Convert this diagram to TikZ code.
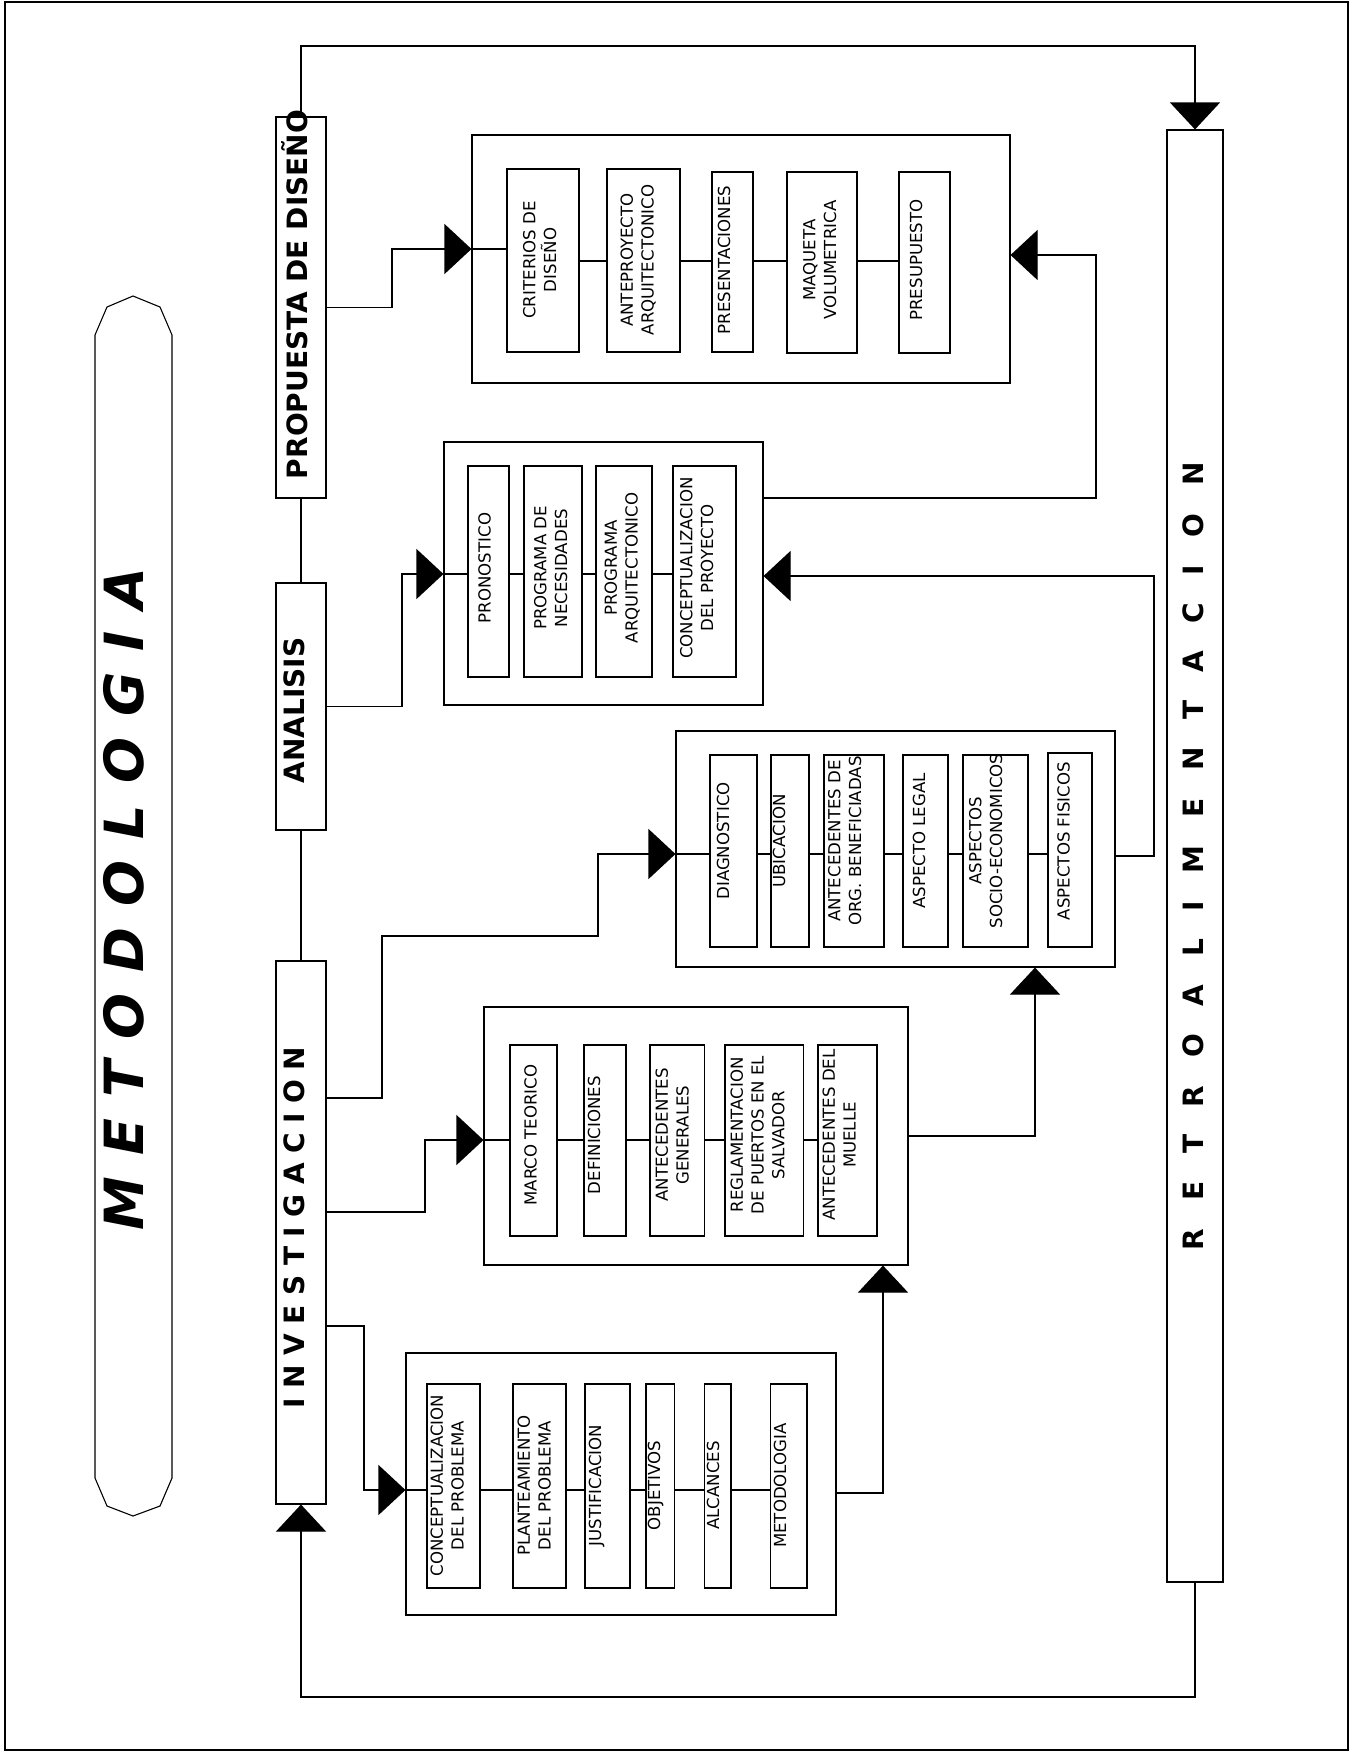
\documentclass[tikz,border=0pt]{standalone}
\usepackage{fontspec}
\setmainfont{DejaVu Sans}
\usetikzlibrary{arrows.meta,fit,calc}
\begin{document}
\begin{tikzpicture}[x=0.5pt,y=-0.5pt,line width=0.55pt,
  frame/.style={draw,inner sep=0pt},
  lab/.style={rotate=90,align=center,inner sep=0pt,text depth=0pt,
              font=\fontsize{8.3}{10.4}\selectfont},
  stage/.style={rotate=90,anchor=base,inner sep=0pt,
                font=\fontsize{14}{17}\selectfont\bfseries},
  arr/.style={-{Triangle[length=13.5pt,width=25pt]}}]
\useasboundingbox (0,0) rectangle (1358,1753);

% page frame
\node[frame,fit={(5,2) (1348,1750)}] (border) {};

% title shield
\draw (95,335) -- (107,307) -- (133,296) -- (160,307) -- (172,335)
  -- (172,1478) -- (160,1506) -- (133,1516) -- (107,1506) -- (95,1478) -- cycle;
\node[stage,font=\fontsize{27}{32}\selectfont\bfseries\itshape] (metodt) at (143,899)
  {\makebox[331pt][s]{M\hfil E\hfil T\hfil O\hfil D\hfil O\hfil L\hfil O\hfil G\hfil I\hfil A}};

% stage bars
\node[frame,fit={(276,117) (326,498)}] (prop) {};
\node[frame,fit={(276,583) (326,830)}] (anal) {};
\node[frame,fit={(276,961) (326,1504)}] (inv) {};
\node[frame,fit={(1167,130) (1223,1582)}] (retro) {};
\node[stage] (propt) at (307,294.5) {PROPUESTA DE DISEÑO};
\node[stage] (analt) at (304,710.5) {ANALISIS};
\node[stage] (invt) at (304,1227.5)
  {\makebox[180.5pt][s]{I\hfil N\hfil V\hfil E\hfil S\hfil T\hfil I\hfil G\hfil A\hfil C\hfil I\hfil O\hfil N}};
\node[stage] (retrot) at (1203,856)
  {\makebox[394pt][s]{R\hfil E\hfil T\hfil R\hfil O\hfil A\hfil L\hfil I\hfil M\hfil E\hfil N\hfil T\hfil A\hfil C\hfil I\hfil O\hfil N}};

% group frames
\node[frame,fit={(472,135) (1010,383)}] (g1) {};
\node[frame,fit={(444,442) (763,705)}] (g2) {};
\node[frame,fit={(676,731) (1115,967)}] (g3) {};
\node[frame,fit={(484,1007) (908,1265)}] (g4) {};
\node[frame,fit={(406,1353) (836,1615)}] (g5) {};

% design proposal items
\node[frame,fit={(507,169) (579,352)}] (c1) {};
\node[frame,fit={(607,169) (680,352)}] (c2) {};
\node[frame,fit={(712,172) (753,352)}] (c3) {};
\node[frame,fit={(787,172) (857,353)}] (c4) {};
\node[frame,fit={(899,172) (950,353)}] (c5) {};
\node[lab] (c1t) at (539.5,260) {CRITERIOS DE\\DISEÑO};
\node[lab] (c2t) at (637,260) {ANTEPROYECTO\\ARQUITECTONICO};
\node[lab] (c3t) at (724,260) {PRESENTACIONES};
\node[lab] (c4t) at (819.5,260) {MAQUETA\\VOLUMETRICA};
\node[lab] (c5t) at (916,260) {PRESUPUESTO};

% analysis items
\node[frame,fit={(468,466) (509,677)}] (a1) {};
\node[frame,fit={(524,466) (582,677)}] (a2) {};
\node[frame,fit={(596,466) (652,677)}] (a3) {};
\node[frame,fit={(673,466) (736,677)}] (a4) {};
\node[lab] (a1t) at (484.5,568) {PRONOSTICO};
\node[lab] (a2t) at (550.5,568) {PROGRAMA DE\\NECESIDADES};
\node[lab] (a3t) at (621,568) {PROGRAMA\\ARQUITECTONICO};
\node[lab] (a4t) at (696.5,568) {CONCEPTUALIZACION\\DEL PROYECTO};

% diagnosis items
\node[frame,fit={(710,755) (757,947)}] (d1) {};
\node[frame,fit={(771,755) (809,947)}] (d2) {};
\node[frame,fit={(824,755) (884,947)}] (d3) {};
\node[frame,fit={(903,755) (948,947)}] (d4) {};
\node[frame,fit={(963,755) (1028,947)}] (d5) {};
\node[frame,fit={(1048,753) (1092,947)}] (d6) {};
\node[lab] (d1t) at (723,841) {DIAGNOSTICO};
\node[lab] (d2t) at (779,841) {UBICACION};
\node[lab] (d3t) at (844.5,841) {ANTECEDENTES DE\\ORG. BENEFICIADAS};
\node[lab] (d4t) at (919,841) {ASPECTO LEGAL};
\node[lab] (d5t) at (985.5,841) {ASPECTOS\\SOCIO-ECONOMICOS};
\node[lab] (d6t) at (1063.5,841) {ASPECTOS FISICOS};

% theoretical framework items
\node[frame,fit={(510,1045) (557,1236)}] (m1) {};
\node[frame,fit={(584,1045) (626,1236)}] (m2) {};
\node[frame,fit={(650,1045) (704.5,1236)}] (m3) {};
\node[frame,fit={(725,1045) (803.5,1236)}] (m4) {};
\node[frame,fit={(818,1045) (877,1236)}] (m5) {};
\node[lab] (m1t) at (530.5,1135) {MARCO TEORICO};
\node[lab] (m2t) at (594,1135) {DEFINICIONES};
\node[lab] (m3t) at (672,1135) {ANTECEDENTES\\GENERALES};
\node[lab] (m4t) at (757.5,1135) {REGLAMENTACION\\DE PUERTOS EN EL\\SALVADOR};
\node[lab] (m5t) at (839,1135) {ANTECEDENTES DEL\\MUELLE};

% problem statement items
\node[frame,fit={(427,1384) (480,1588)}] (p1) {};
\node[frame,fit={(513,1384) (566,1588)}] (p2) {};
\node[frame,fit={(585,1384) (630,1588)}] (p3) {};
\node[frame,fit={(646,1384) (674.5,1588)}] (p4) {};
\node[frame,fit={(704.5,1384) (731,1588)}] (p5) {};
\node[frame,fit={(770.5,1384) (807,1588)}] (p6) {};
\node[lab] (p1t) at (447,1485.5) {CONCEPTUALIZACION\\DEL PROBLEMA};
\node[lab] (p2t) at (534,1485.5) {PLANTEAMIENTO\\DEL PROBLEMA};
\node[lab] (p3t) at (595,1485.5) {JUSTIFICACION};
\node[lab] (p4t) at (654,1485.5) {OBJETIVOS};
\node[lab] (p5t) at (713,1485.5) {ALCANCES};
\node[lab] (p6t) at (780,1485.5) {METODOLOGIA};

% chains inside the groups
\draw (g1.west |- 0,249) -- (c1.west |- 0,249);
\foreach \a/\b in {c1/c2,c2/c3,c3/c4,c4/c5}
  \draw (\a.east |- 0,261) -- (\b.west |- 0,261);
\draw (g2.west |- 0,574) -- (a1.west |- 0,574);
\foreach \a/\b in {a1/a2,a2/a3,a3/a4}
  \draw (\a.east |- 0,574) -- (\b.west |- 0,574);
\draw (g3.west |- 0,854) -- (d1.west |- 0,854);
\foreach \a/\b in {d1/d2,d2/d3,d3/d4,d4/d5,d5/d6}
  \draw (\a.east |- 0,854) -- (\b.west |- 0,854);
\draw (g4.west |- 0,1140) -- (m1.west |- 0,1140);
\foreach \a/\b in {m1/m2,m2/m3,m3/m4,m4/m5}
  \draw (\a.east |- 0,1140) -- (\b.west |- 0,1140);
\draw (g5.west |- 0,1490) -- (p1.west |- 0,1490);
\foreach \a/\b in {p1/p2,p2/p3,p3/p4,p4/p5,p5/p6}
  \draw (\a.east |- 0,1490) -- (\b.west |- 0,1490);

% stage links
\draw (prop.south) -- (anal.north);
\draw (anal.south) -- (inv.north);

% stage to group links
\draw[arr] (prop.east) -- (392,307.5) |- (g1.west |- 0,249);
\draw[arr] (anal.east) -- (402,706.5) |- (g2.west |- 0,574);
\draw[arr] (inv.east |- 0,1098) -| (382,936) -| (598,854) -- (g3.west |- 0,854);
\draw[arr] (inv.east |- 0,1212) -| (425,1140) -- (g4.west |- 0,1140);
\draw[arr] (inv.east |- 0,1326) -| (364,1490) -- (g5.west |- 0,1490);

% group to group links
\draw[arr] (g5.east |- 0,1493) -| (g4.south -| 883,0);
\draw[arr] (g4.east) -| (g3.south -| 1035,0);
\draw[arr] (g3.east |- 0,856) -| (1154,576) -- (g2.east |- 0,576);
\draw[arr] (g2.east |- 0,498) -| (1096,255) -- (g1.east |- 0,255);

% feedback loop
\draw[arr] (prop.north) |- (1195,46) -- (retro.north);
\draw[arr] (retro.south) |- (301,1697) -- (inv.south);
\end{tikzpicture}
\end{document}
